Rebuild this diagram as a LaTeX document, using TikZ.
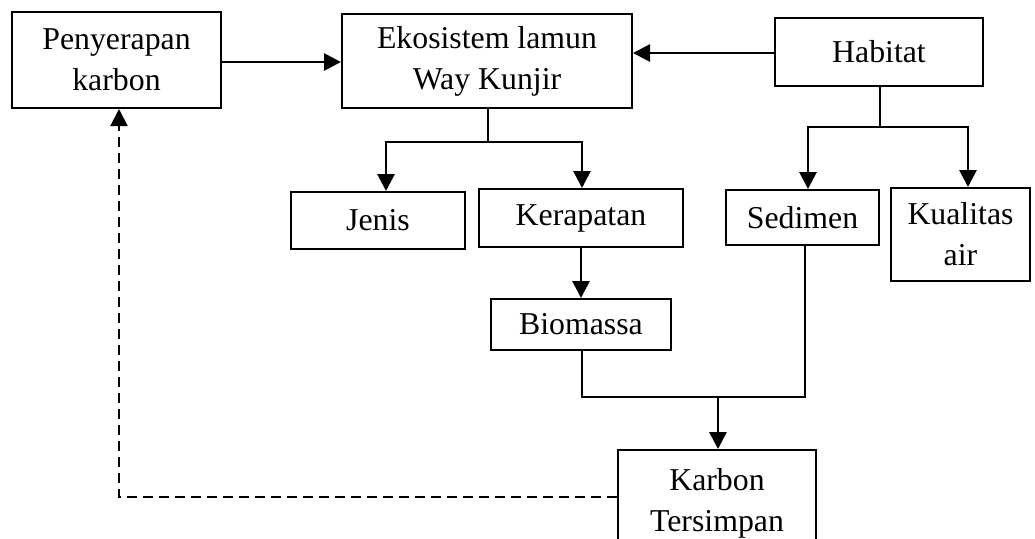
\documentclass[tikz,border=0pt]{standalone}
\usepackage{fontspec}
\setmainfont{Liberation Serif}
\usetikzlibrary{arrows.meta}
\begin{document}
\begin{tikzpicture}[x=0.5pt,y=-0.5pt,
  box/.style={draw,line width=1pt,inner sep=0pt,align=center,
    font=\fontsize{15.9}{20.5}\selectfont},
  arr/.style={line width=1.4pt,-{Triangle[length=8.5pt,width=8.5pt]}},
  thinline/.style={line width=0.6pt},
  dasharr/.style={line width=1pt,dash pattern=on 5pt off 3pt,-{Triangle[length=8.5pt,width=8.5pt]}}]
\useasboundingbox (0,0) rectangle (1035,538);
\node[box,minimum width=104.5pt,minimum height=48pt] (pen) at (116.5,60) {Penyerapan\\karbon};
\node[box,minimum width=145pt,minimum height=47pt] (eko) at (487,61) {Ekosistem lamun\\Way Kunjir};
\node[box,minimum width=104pt,minimum height=34pt] (hab) at (879,52) {Habitat};
\node[box,minimum width=87pt,minimum height=28.5pt] (jen) at (378,220.5) {Jenis};
\node[box,minimum width=102pt,minimum height=29pt] (ker) at (581,218) {Kerapatan};
\node[box,minimum width=76.5pt,minimum height=27.5pt] (sed) at (802.5,217.5) {Sedimen};
\node[box,minimum width=69.5pt,minimum height=46.5pt] (kua) at (960.5,234.5) {Kualitas\\air};
\node[box,minimum width=90pt,minimum height=25.5pt] (bio) at (581,324.5) {Biomassa};
\node[box,minimum width=99pt,minimum height=53pt] (kar) at (717,503) {Karbon\\Tersimpan};
% top arrows
\draw[arr] (pen.east |- 0,62) -- (eko.west |- 0,62);
\draw[arr] (hab.west |- 0,53) -- (eko.east |- 0,53);
% ekosistem branches
\coordinate (e1) at (488,142);
\draw[thinline] (eko.south -| e1) -- (e1);
\draw[arr] (e1) -| (jen.north -| 386,0);
\draw[arr] (e1) -| (ker.north -| 582,0);
% habitat branches
\coordinate (h1) at (880,127);
\draw[thinline] (hab.south -| h1) -- (h1);
\draw[arr] (h1) -| (sed.north -| 808,0);
\draw[arr] (h1) -| (kua.north -| 968,0);
% kerapatan to biomassa
\draw[arr] (ker.south) -- (bio.north);
% join to karbon
\coordinate (j1) at (582,397);
\coordinate (j2) at (805,397);
\coordinate (j3) at (718,397);
\draw[thinline] (bio.south -| j1) -- (j1) -- (j2) -- (sed.south -| j2);
\draw[arr] (j3) -- (kar.north -| j3);
% dashed feedback
\coordinate (d1) at (119,497);
\draw[dasharr] (kar.west |- d1) -- (d1) -- (pen.south -| d1);
\end{tikzpicture}
\end{document}
